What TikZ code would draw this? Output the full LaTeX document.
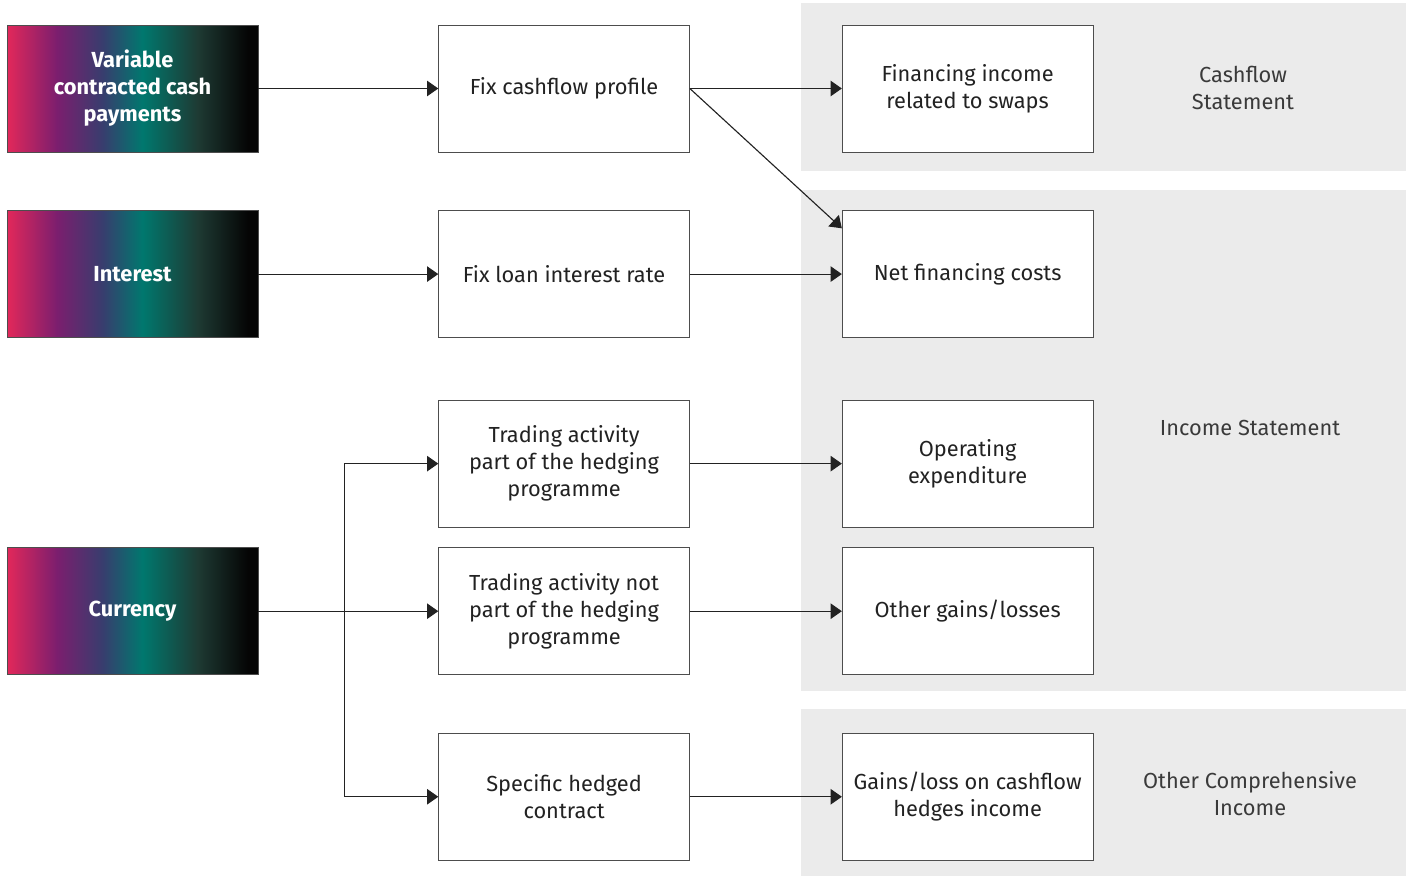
\documentclass[tikz,border=0pt]{standalone}
\usepackage{fontspec}
\setmainfont{Fira Sans}
\usetikzlibrary{arrows.meta,positioning}
\definecolor{ink}{HTML}{222222}
\definecolor{edge}{HTML}{4D4D4D}
\definecolor{panelgray}{HTML}{EBEBEB}
\definecolor{labelgray}{HTML}{3A3A3A}
\definecolor{gradred}{HTML}{E2285A}
\definecolor{gradpurple}{HTML}{7B1E6E}
\definecolor{gradnavy}{HTML}{383D6E}
\definecolor{gradteal}{HTML}{00786E}
\definecolor{gradgreen}{HTML}{1E3A33}
\definecolor{graddark}{HTML}{050505}
\pgfdeclarehorizontalshading{brand}{100bp}{color(0bp)=(gradred); color(25bp)=(gradred); color(35bp)=(gradpurple); color(44bp)=(gradnavy); color(52bp)=(gradteal); color(63bp)=(gradgreen); color(73bp)=(graddark); color(100bp)=(graddark)}

\begin{document}
\begin{tikzpicture}[node distance=14.5mm and 45mm,
  every node/.style={font=\fontsize{15.5}{19.2}\selectfont,align=center},
  srcbox/.style={shading=brand,draw=edge,text=white,font=\fontsize{15.5}{19.2}\selectfont\bfseries,minimum width=62.75mm,minimum height=31.75mm,inner sep=0pt},
  stepbox/.style={draw=edge,fill=white,text=ink,minimum width=62.75mm,minimum height=31.75mm,inner sep=0pt},
  panel/.style={fill=panelgray,draw=none},
  paneltext/.style={text=labelgray},
  arr/.style={-{Triangle[length=8pt,width=11pt]},draw=ink,line width=0.8pt}]
\useasboundingbox (0,0) rectangle (352.75mm,-219mm);
% statement panels
\fill[panel] (200.25mm,-0.75mm) rectangle (351.5mm,-42.75mm);
\fill[panel] (200.25mm,-47.5mm) rectangle (351.5mm,-172.75mm);
\fill[panel] (200.25mm,-177.25mm) rectangle (351.5mm,-219mm);
\node[paneltext] (cashlbl) at (310.75mm,-22mm) {Cashflow\\Statement};
\node[paneltext] (inclbl) at (312.5mm,-107mm) {Income Statement};
\node[paneltext] (ocilbl) at (312.5mm,-198.5mm) {Other Comprehensive\\Income};
% exposures, actions, outcomes
\node[srcbox] (var) at (33.125mm,-22.125mm) {Variable\\contracted cash\\payments};
\node[stepbox,right=of var] (fix) {Fix cashflow profile};
\node[stepbox,right=38mm of fix] (fin) {Financing income\\related to swaps};
\node[srcbox,below=of var] (int) {Interest};
\node[stepbox,right=of int] (loan) {Fix loan interest rate};
\node[stepbox,right=38mm of loan] (net) {Net financing costs};
\node[stepbox,below=15.5mm of loan] (hedged) {Trading activity\\part of the hedging\\programme};
\node[stepbox,right=38mm of hedged] (opex) {Operating\\expenditure};
\node[stepbox,below=5mm of hedged] (unhedged) {Trading activity not\\part of the hedging\\programme};
\node[srcbox,left=of unhedged] (cur) {Currency};
\node[stepbox,right=38mm of unhedged] (other) {Other gains/losses};
\node[stepbox,below=of unhedged] (contract) {Specific hedged\\contract};
\node[stepbox,right=38mm of contract] (oci) {Gains/loss on cashflow\\hedges income};
\coordinate[right=21.5mm of cur.east] (split);
% connectors
\draw[arr] (var) -- (fix);
\draw[arr] (fix) -- (fin);
\draw[arr] (fix.east) -- ([yshift=-4.5mm]net.north west);
\draw[arr] (int) -- (loan);
\draw[arr] (loan) -- (net);
\draw[arr] (cur) -- (unhedged);
\draw[arr] (split) |- (hedged.west);
\draw[arr] (split) |- (contract.west);
\draw[arr] (hedged) -- (opex);
\draw[arr] (unhedged) -- (other);
\draw[arr] (contract) -- (oci);
\end{tikzpicture}
\end{document}
